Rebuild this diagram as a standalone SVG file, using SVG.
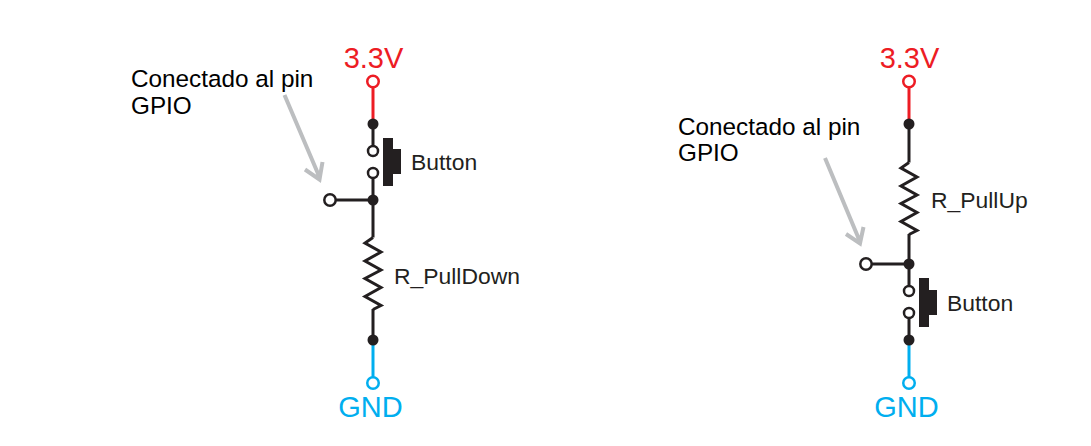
<svg xmlns="http://www.w3.org/2000/svg" width="1091" height="446" viewBox="0 0 1091 446">
<style>
text{font-family:"Liberation Sans",Arial,sans-serif}
.lab{font-size:24.3px;fill:#000}
.cmp{font-size:22.9px;fill:#231f20}
.v{font-size:29px;fill:#ed1c24;text-anchor:middle}
.g{font-size:29px;fill:#00aeef;text-anchor:middle}
.w{fill:none;stroke:#231f20;stroke-width:3}
.r{fill:none;stroke:#ed1c24;stroke-width:3}
.b{fill:none;stroke:#00aeef;stroke-width:3}
.a{fill:none;stroke:#bcbec0;stroke-width:4}
.dot{fill:#231f20}
.o{fill:#fff;stroke:#231f20;stroke-width:2.5}
.or{fill:#fff;stroke:#ed1c24;stroke-width:2.5}
.ob{fill:#fff;stroke:#00aeef;stroke-width:2.5}
.btn{fill:#231f20}
</style>
<defs>
<path id="zig" d="M0 0L-8 5.500L8 14.500L-8 23.500L8 32.500L-8 41L8 50L-8 59L8 68L0 72"/>
</defs>
<g id="connectors">
<path class="r" d="M373 87V124"/>
<path class="w" d="M373 124V146M373 178V237.500"/>
<use href="#zig" class="w" x="373" y="237.500"/>
<path class="w" d="M373 309V340M336 200H373"/>
<path class="b" d="M373 340V377"/>
<path class="a" d="M284.500 95L319 176M305 169.500L319.500 179.500L322.500 162"/>
<path class="r" d="M909 87V124"/>
<path class="w" d="M909 124V162.500"/>
<use href="#zig" class="w" x="909" y="162.500"/>
<path class="w" d="M909 234V286M909 318V340M872 264H909"/>
<path class="b" d="M909 340V377"/>
<path class="a" d="M825 158L859.500 240.500M846 234L860 243.500L863.500 227"/>
</g>
<g id="left-vcc"><circle class="or" cx="373" cy="81.500" r="5.750"/><text class="v" x="373.500" y="67.500">3.3V</text></g>
<g id="left-j1"><circle class="dot" cx="373" cy="124" r="5.500"/></g>
<g id="left-button">
<circle class="o" cx="373" cy="151" r="5"/><circle class="o" cx="373" cy="173" r="5"/>
<path class="btn" d="M383 138H393V149H401V174H393V186H383Z"/>
<text class="cmp" x="411" y="170">Button</text>
</g>
<g id="left-j2"><circle class="dot" cx="373" cy="200" r="5.500"/></g>
<g id="left-gpio"><circle class="o" cx="330" cy="200" r="5.700"/>
<text class="lab" x="131" y="87">Conectado al pin</text><text class="lab" x="131" y="114">GPIO</text></g>
<g id="left-resistor"><text class="cmp" x="394" y="284">R_PullDown</text></g>
<g id="left-j3"><circle class="dot" cx="373" cy="340" r="5.500"/></g>
<g id="left-gnd"><circle class="ob" cx="373" cy="383" r="5.750"/><text class="g" x="370.500" y="417">GND</text></g>
<g id="right-vcc"><circle class="or" cx="909" cy="81.500" r="5.750"/><text class="v" x="909.500" y="67.500">3.3V</text></g>
<g id="right-j1"><circle class="dot" cx="909" cy="124" r="5.500"/></g>
<g id="right-resistor"><text class="cmp" x="931" y="208">R_PullUp</text></g>
<g id="right-j2"><circle class="dot" cx="909" cy="264" r="5.500"/></g>
<g id="right-gpio"><circle class="o" cx="866" cy="264" r="5.700"/>
<text class="lab" x="678" y="135">Conectado al pin</text><text class="lab" x="678" y="161">GPIO</text></g>
<g id="right-button">
<circle class="o" cx="909" cy="291" r="5"/><circle class="o" cx="909" cy="313" r="5"/>
<path class="btn" d="M919 278H929V290H937V315H929V327H919Z"/>
<text class="cmp" x="947" y="311">Button</text>
</g>
<g id="right-j3"><circle class="dot" cx="909" cy="340" r="5.500"/></g>
<g id="right-gnd"><circle class="ob" cx="909" cy="383" r="5.750"/><text class="g" x="906.500" y="417">GND</text></g>
</svg>
